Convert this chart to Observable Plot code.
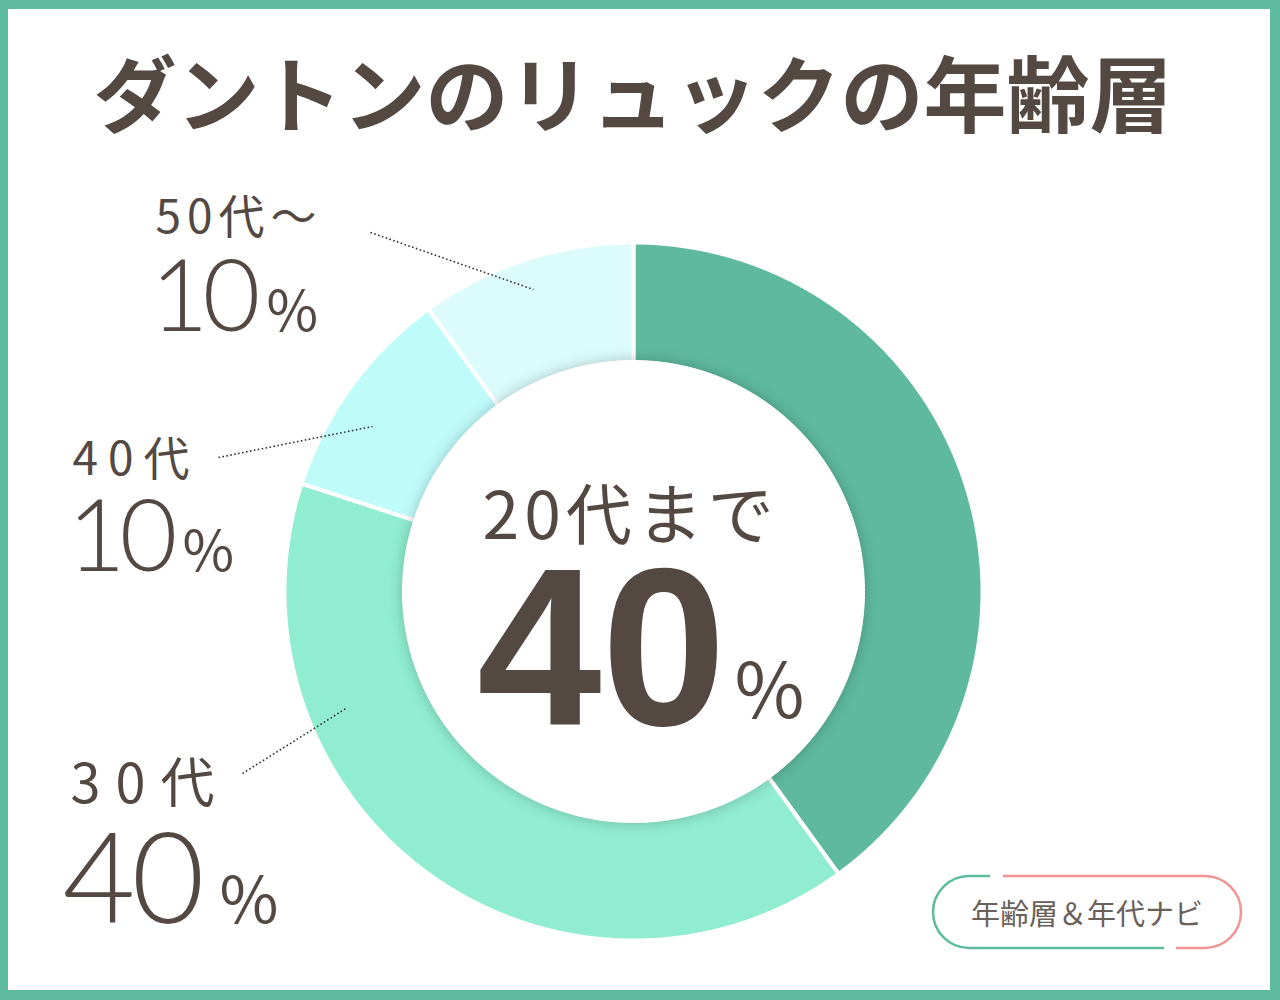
<!DOCTYPE html>
<html><head><meta charset="utf-8">
<script src="https://cdn.jsdelivr.net/npm/d3@7"></script>
<script src="https://cdn.jsdelivr.net/npm/@observablehq/plot@0.6"></script>
<style>
html,body{margin:0;padding:0;background:#fff;}
#wrap{position:relative;width:1280px;height:1000px;overflow:hidden;background:#fff;font-family:"Noto Sans CJK JP","Noto Sans",sans-serif;}
#frame{position:absolute;left:0;top:0;width:1280px;height:1000px;box-sizing:border-box;border-style:solid;border-color:#5fbb9f;border-width:9px 10px 10px 8px;pointer-events:none;}
#title{position:absolute;left:-7px;width:1280px;top:49px;text-align:center;font-size:83px;line-height:1;font-weight:700;color:#544842;}
#chart{position:absolute;left:0;top:0;width:1280px;height:1000px;}
#badge{position:absolute;left:931px;top:874px;width:312px;height:76px;}
#badge span{position:absolute;left:0;top:0;width:312px;line-height:76px;text-align:center;font-size:29px;color:#6a5f59;}
</style></head>
<body>
<div id="wrap">
  <div id="chart"></div>
  <div id="title">ダントンのリュックの年齢層</div>
  <div id="badge">
    <svg width="312" height="76" style="position:absolute;left:0;top:0">
      <path d="M59,2 L38,2 A36,36 0 0 0 38,74 L233,74" fill="none" stroke="#5fbb9f" stroke-width="2.5"/>
      <path d="M72,2 L274,2 A36,36 0 0 1 274,74 L245,74" fill="none" stroke="#f29494" stroke-width="2.5"/>
    </svg>
    <span>年齢層＆年代ナビ</span>
  </div>
  <div id="frame"></div>
</div>
<script>
// ---- data ----
const categories = ["20代まで", "30代", "40代", "50代〜"];
const shares = [40, 40, 10, 10];
const sliceColors = ["#5eb99e", "#90edcf", "#c0fbfb", "#dcfcfc"];
const labelNames = ["20代まで", "30代", "40代", "50代〜"];
const labelValues = ["40", "40", "10", "10"];

// ---- layout (page pixels) ----
const CX = 633, CY = 591, R_OUT = 349, R_IN = 231;
const outside = [
  {i: 3, nx: 155, ny: 232, nsize: 46, nls: 6,  vx: 150, vy: 330, vsize: 100, vls: -6, px: 266, psize: 56, lx1: 370, ly1: 232, lx2: 533, ly2: 289},
  {i: 2, nx: 72,  ny: 474, nsize: 46, nls: 10, vx: 67,  vy: 570, vsize: 100, vls: -6, px: 182, psize: 56, lx1: 218, ly1: 457, lx2: 372, ly2: 426},
  {i: 1, nx: 70,  ny: 802, nsize: 54, nls: 15, vx: 62,  vy: 922, vsize: 126, vls: -4, px: 219, psize: 64, lx1: 242, ly1: 773, lx2: 347, ly2: 707}
];

// ---- geometry from data ----
const pie = d3.pie().sort(null).value(d => d)(shares);
function slicePolygon(p, k) {
  const pts = [];
  const n = Math.max(8, Math.ceil((p.endAngle - p.startAngle) / 0.005));
  for (let j = 0; j <= n; j++) {
    const a = p.startAngle + (p.endAngle - p.startAngle) * j / n;
    pts.push({cat: categories[k], x: CX + R_OUT * Math.sin(a), y: CY - R_OUT * Math.cos(a)});
  }
  for (let j = n; j >= 0; j--) {
    const a = p.startAngle + (p.endAngle - p.startAngle) * j / n;
    pts.push({cat: categories[k], x: CX + (R_IN - 6) * Math.sin(a), y: CY - (R_IN - 6) * Math.cos(a)});
  }
  pts.push(pts[0]);
  return pts;
}
const hole = d3.range(0, 361, 1).map(t => ({x: CX + R_IN * Math.sin(t * Math.PI / 180), y: CY - R_IN * Math.cos(t * Math.PI / 180)}));

const textColor = "#544842";
const ff = "Noto Sans CJK JP, Noto Sans, sans-serif";

const textMarks = [];
const spacings = [];
outside.forEach(o => {
  textMarks.push(Plot.text([o], {x: "nx", y: "ny", text: d => labelNames[d.i], textAnchor: "start", lineAnchor: "bottom", fontSize: o.nsize, fill: textColor, fontFamily: ff, fontWeight: 400}));
  spacings.push(o.nls);
  textMarks.push(Plot.text([o], {x: "vx", y: "vy", text: d => labelValues[d.i], textAnchor: "start", lineAnchor: "bottom", fontSize: o.vsize, fill: textColor, fontFamily: "Lato, Noto Sans, sans-serif", fontWeight: 300}));
  spacings.push(o.vls);
  textMarks.push(Plot.text([o], {x: "px", y: "vy", text: () => "%", textAnchor: "start", lineAnchor: "bottom", fontSize: o.psize, fill: textColor, fontFamily: ff, fontWeight: 400}));
  spacings.push(0);
});
textMarks.push(Plot.text([0], {x: () => 482, y: () => 538, text: () => labelNames[0], textAnchor: "start", lineAnchor: "bottom", fontSize: 66, fill: textColor, fontFamily: ff, fontWeight: 400}));
spacings.push(5);
textMarks.push(Plot.text([0], {x: () => 601, y: () => 724, text: () => labelValues[0], lineAnchor: "bottom", fontSize: 224, fill: textColor, fontFamily: "Liberation Sans, Arial, sans-serif", fontWeight: 700}));
spacings.push(0);
textMarks.push(Plot.text([0], {x: () => 734, y: () => 717, text: () => "%", textAnchor: "start", lineAnchor: "bottom", fontSize: 76, fill: textColor, fontFamily: ff, fontWeight: 400}));
spacings.push(0);

const marks = [
  ...pie.map((p, k) => Plot.line(slicePolygon(p, k), {x: "x", y: "y", fill: sliceColors[k], stroke: "#fff", strokeWidth: 4, strokeLinejoin: "miter"})),
  Plot.line(hole, {x: "x", y: "y", fill: "#fff", stroke: "#fff", strokeWidth: 1}),
  Plot.link(outside, {x1: "lx1", y1: "ly1", x2: "lx2", y2: "ly2", stroke: "#333", strokeWidth: 1.6, strokeDasharray: "1.6,2.4"}),
  ...textMarks
];

const svg = Plot.plot({
  width: 1280, height: 1000,
  margin: 0,
  x: {domain: [0, 1280], range: [0, 1280], axis: null},
  y: {domain: [0, 1000], range: [0, 1000], axis: null},
  style: {background: "transparent", overflow: "visible"},
  marks
});
document.getElementById("chart").appendChild(svg);

// inner shadow of the hole (last line group)
const lineGroups = d3.select(svg).selectAll('g[aria-label="line"]').nodes();
d3.select(lineGroups[lineGroups.length - 1]).style("filter", "drop-shadow(0px 0px 7px rgba(0,0,0,0.22))");
// letter spacing per text mark, in mark order
d3.select(svg).selectAll('g[aria-label="text"]').nodes().forEach((g, k) => {
  if (spacings[k]) d3.select(g).selectAll("text").style("letter-spacing", spacings[k] + "px");
});
</script>
</body></html>
